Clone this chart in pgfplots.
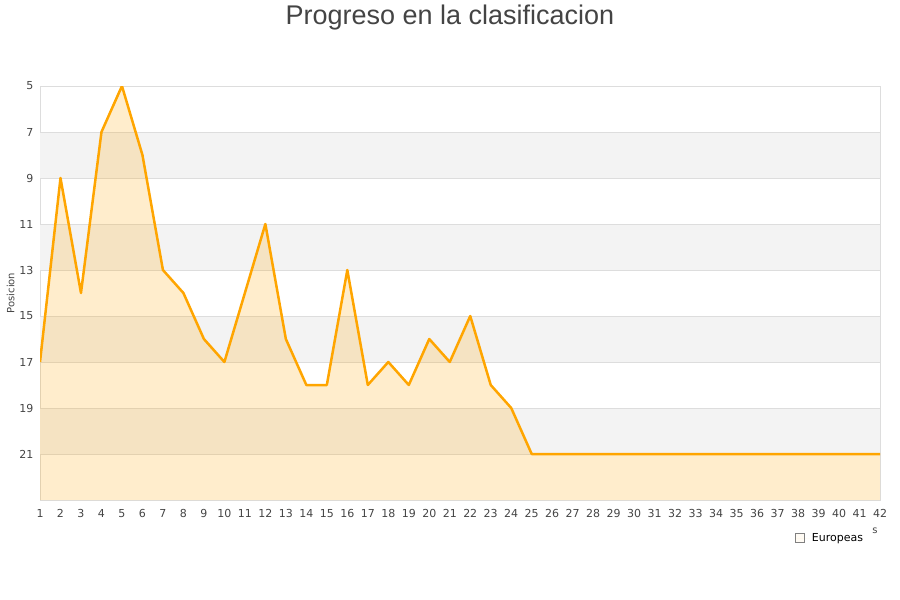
\documentclass[border=0pt]{standalone}
\usepackage{pgfplots}
\pgfplotsset{compat=1.18}
\usepackage{fontspec}
\setmainfont{DejaVu Sans}
\newfontfamily\titlefont{Liberation Sans}
\definecolor{ln}{HTML}{FFA500}
\definecolor{band}{HTML}{F3F3F3}
\definecolor{gridc}{HTML}{DDDDDD}
\definecolor{txt}{HTML}{444444}
\pgfplotstableread{
x y
1 17
2 9
3 14
4 7
5 5
6 8
7 13
8 14
9 16
10 17
11 14
12 11
13 16
14 18
15 18
16 13
17 18
18 17
19 18
20 16
21 17
22 15
23 18
24 19
25 21
26 21
27 21
28 21
29 21
30 21
31 21
32 21
33 21
34 21
35 21
36 21
37 21
38 21
39 21
40 21
41 21
42 21
}\datatable
\begin{document}
\begin{tikzpicture}
\path[use as bounding box] (0pt,0pt) rectangle (900pt,600pt);
\node[anchor=base,font=\titlefont\fontsize{27}{32}\selectfont,text=txt] at (450pt,575pt) {Progreso en la clasificacion};
\begin{axis}[
  at={(460pt,307pt)}, anchor=center,
  scale only axis, width=840pt, height=414pt,
  xmin=1, xmax=42, ymin=5, ymax=23,
  y dir=reverse,
  ytick={5,7,...,21},
  xtick={1,...,42},
  axis line style={draw=gridc, line width=0.8pt},
  major tick style={draw=none},
  ticklabel style={font=\fontsize{11}{13}\selectfont, text=txt},
  xticklabel style={yshift=-6pt},
  yticklabel style={xshift=-3pt},
  /pgf/number format/assume math mode=true,
  ylabel={Posicion},
  ylabel style={at={(axis description cs:-0.035,0.5)}, anchor=center, font=\fontsize{10}{12}\selectfont, text=txt},
  legend style={at={(axis description cs:0.986,-0.092)}, anchor=east, draw=none, fill=none, font=\fontsize{11}{13}\selectfont, text=black},
  legend image code/.code={\draw[fill=ln!22, draw=black!50, line width=0.6pt] (0pt,-4.5pt) rectangle (9pt,4.5pt); \path (0pt,0pt) -- (15pt,0pt);},
]
\fill[band] (axis cs:1,7) rectangle (axis cs:42,9);
\fill[band] (axis cs:1,11) rectangle (axis cs:42,13);
\fill[band] (axis cs:1,15) rectangle (axis cs:42,17);
\fill[band] (axis cs:1,19) rectangle (axis cs:42,21);
\pgfplotsinvokeforeach{7,9,...,21}{\draw[gridc, line width=0.8pt] (axis cs:1,#1) -- (axis cs:42,#1);}
\addplot[fill=ln, fill opacity=0.2, draw=none] table[x=x,y=y] {\datatable} -- (axis cs:42,23) -- (axis cs:1,23) -- cycle;
\addlegendentry{Europeas}
\addplot[ln, line width=2.5pt, line join=round, forget plot] table[x=x,y=y] {\datatable};
\end{axis}
\node[font=\fontsize{10}{12}\selectfont, text=txt] at (875pt,69pt) {s};
\end{tikzpicture}
\end{document}
